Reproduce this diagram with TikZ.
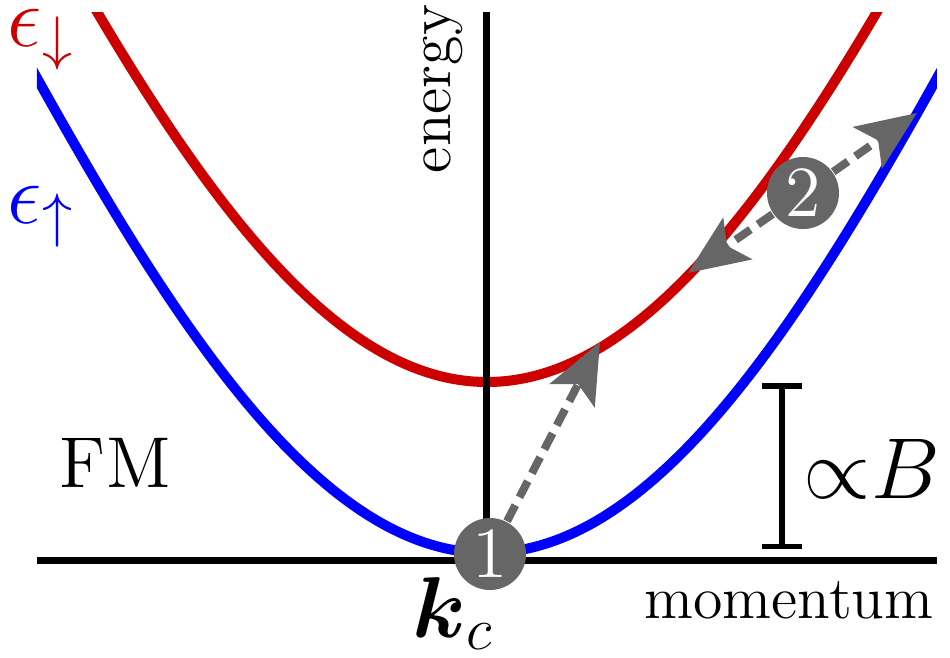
\documentclass[tikz,border=0pt]{standalone}
\usepackage{amsmath,amssymb}
\usepackage{xcolor}
\usepackage{tikz}
\usetikzlibrary{arrows.meta, positioning}

\definecolor{downred}{RGB}{204,0,0}
\definecolor{upblue}{RGB}{0,0,255}
\definecolor{markgray}{RGB}{102,102,102}

\newcommand{\bigmath}{\fontsize{18.5}{22}\selectfont}

\begin{document}
\begin{tikzpicture}[x=0.2pt, y=-0.2pt, declare function={disp(\u)=27.0*\u*\u-0.175*\u*\u*\u*\u;}]
    \tikzstyle{band} = [line width=2pt, domain=-4.7:4.7, samples=121, smooth]
    \tikzstyle{axis} = [line width=1.4pt]
    \tikzstyle{marker} = [circle, fill=markgray, text=white, font=\Large, inner sep=0pt, minimum size=14.4pt]
    \tikzstyle{jump} = [draw=markgray, line width=1.6pt, dash pattern=on 3.6pt off 1.8pt, -{Stealth[length=12pt, width=10pt, inset=2.5pt]}]
    \tikzstyle{label} = [inner sep=0pt, anchor=base west]
    \useasboundingbox (0,0) rectangle (950,657);

    % the two spin bands
    \begin{scope}
        \clip (37,12) rectangle (937,600);
        \draw [band, downred] plot ({487+100*\x}, {382-disp(\x)});
        \draw [band, upblue] plot ({487+100*\x}, {553-disp(\x)});
    \end{scope}

    % axes
    \coordinate (origin) at (487,560);
    \coordinate (xstart) at (37,560);
    \coordinate (xend) at (937,560);
    \coordinate (ytop) at (487,12);
    \draw [axis] (xstart) -- (xend);
    \draw [axis] (origin) -- (ytop);

    \node [inner sep=0pt, font=\large, rotate=90] (energy) at (443,89) {energy};
    \node [inner sep=0pt, font=\large, anchor=base] (momentum) at (789,618) {momentum};
    \node [label, font=\Large] (fm) at (59,487) {FM};
    \node [label, font=\bigmath, text=downred] (edown) at (7,46) {$\epsilon_\downarrow$};
    \node [label, font=\bigmath, text=upblue] (eup) at (7,223) {$\epsilon_\uparrow$};
    \node [label, font=\LARGE] (kc) at (412,637) {$\boldsymbol{k}_c$};

    % splitting
    \coordinate (gaptop) at (782,383);
    \coordinate (gapbot) at (782,549);
    \draw [line width=1.1pt, {Bar[width=8pt]}-{Bar[width=8pt]}] (gaptop) -- (gapbot);
    \node [label, font=\bigmath] (prop) at (803,498) {${\propto}B$};

    % processes
    \node [marker] (one) at (490,554) {1};
    \node [marker] (two) at (803,193) {2};
    \coordinate (hit) at (600,342);
    \coordinate (flipdown) at (688,273);
    \coordinate (flipup) at (917,113);
    \draw [jump] (one) -- (hit);
    \draw [jump] (two) -- (flipdown);
    \draw [jump] (two) -- (flipup);
\end{tikzpicture}
\end{document}
